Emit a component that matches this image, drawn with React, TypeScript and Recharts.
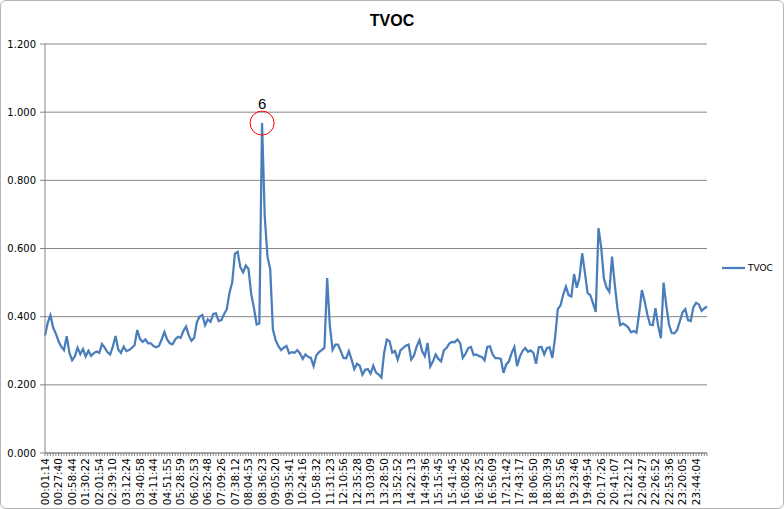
import {
	LineChart,
	Line,
	XAxis,
	YAxis,
	CartesianGrid,
	ReferenceDot,
} from "recharts";

// TVOC readings, one per sample (~245 samples)
const TVOC_VALUES = [
	0.345, 0.382, 0.404, 0.368, 0.35, 0.328, 0.312, 0.302, 0.343, 0.294,
	0.272, 0.284, 0.309, 0.29, 0.305, 0.283, 0.3, 0.285, 0.293, 0.298,
	0.294, 0.32, 0.309, 0.296, 0.289, 0.312, 0.343, 0.304, 0.294, 0.312,
	0.299, 0.302, 0.308, 0.316, 0.361, 0.335, 0.326, 0.333, 0.322, 0.322,
	0.314, 0.31, 0.314, 0.333, 0.355, 0.333, 0.322, 0.319, 0.333, 0.341,
	0.338, 0.358, 0.371, 0.345, 0.329, 0.338, 0.385, 0.4, 0.405, 0.375,
	0.392, 0.385, 0.408, 0.41, 0.387, 0.39, 0.407, 0.422, 0.47, 0.5,
	0.585, 0.59, 0.545, 0.53, 0.55, 0.54, 0.466, 0.426, 0.377, 0.38,
	0.968, 0.693, 0.576, 0.54, 0.363, 0.331, 0.314, 0.302, 0.309, 0.314,
	0.292, 0.296, 0.294, 0.302, 0.292, 0.276, 0.289, 0.282, 0.279, 0.255,
	0.286, 0.296, 0.302, 0.309, 0.513, 0.372, 0.303, 0.318, 0.318, 0.299,
	0.279, 0.278, 0.299, 0.274, 0.246, 0.262, 0.256, 0.23, 0.244, 0.246,
	0.233, 0.256, 0.236, 0.23, 0.221, 0.294, 0.333, 0.328, 0.294, 0.299,
	0.274, 0.301, 0.308, 0.315, 0.318, 0.274, 0.286, 0.313, 0.331, 0.299,
	0.284, 0.323, 0.254, 0.269, 0.289, 0.276, 0.269, 0.301, 0.308, 0.321,
	0.326, 0.325, 0.333, 0.323, 0.279, 0.291, 0.308, 0.311, 0.287, 0.289,
	0.284, 0.282, 0.272, 0.311, 0.313, 0.289, 0.278, 0.278, 0.276, 0.235,
	0.26, 0.269, 0.294, 0.311, 0.255, 0.282, 0.299, 0.308, 0.297, 0.301,
	0.294, 0.262, 0.31, 0.311, 0.289, 0.308, 0.31, 0.279, 0.338, 0.422,
	0.433, 0.465, 0.488, 0.463, 0.459, 0.525, 0.485, 0.515, 0.586, 0.529,
	0.469, 0.463, 0.439, 0.414, 0.66, 0.603, 0.512, 0.485, 0.473, 0.576,
	0.495, 0.424, 0.375, 0.38, 0.375, 0.368, 0.354, 0.358, 0.353, 0.41,
	0.478, 0.446, 0.407, 0.377, 0.375, 0.425, 0.373, 0.337, 0.5, 0.433,
	0.377, 0.352, 0.351, 0.361, 0.387, 0.413, 0.422, 0.39, 0.387, 0.428,
	0.441, 0.436, 0.417, 0.424, 0.43,
];

// Axis labels, shown on every LABEL_STEP-th sample
const TIME_LABELS = [
	"00:01:14", "00:27:40", "00:58:44", "01:30:22", "02:01:54", "02:39:10",
	"03:12:24", "03:40:58", "04:11:44", "04:51:55", "05:28:59", "06:02:53",
	"06:32:48", "07:09:26", "07:38:12", "08:04:53", "08:36:23", "09:05:20",
	"09:35:41", "10:24:16", "10:58:32", "11:31:23", "12:10:56", "12:35:28",
	"13:03:09", "13:28:50", "13:52:52", "14:22:13", "14:49:36", "15:15:45",
	"15:41:45", "16:08:26", "16:32:25", "16:56:09", "17:21:42", "17:43:17",
	"18:06:50", "18:30:39", "18:53:56", "19:23:46", "19:49:54", "20:17:26",
	"20:41:07", "21:22:12", "22:04:27", "22:26:52", "22:53:36", "23:20:05",
	"23:44:04",
];
const LABEL_STEP = 5;

const Y_TICKS = [0, 0.2, 0.4, 0.6, 0.8, 1.0, 1.2];
const SERIES_NAME = "TVOC";
const PEAK_NOTE = "6";

const LINE_COLOR = "#4A7EBB";
const GRID_COLOR = "#868686";
const FONT = "'DejaVu Sans', Verdana, sans-serif";

// Rotated time label, only drawn on labelled samples
const TimeTick = (props: { x?: number; y?: number; payload?: { value: number } }) => {
	const x = Number(props.x ?? 0);
	const y = Number(props.y ?? 0);
	const idx = Number(props.payload?.value ?? 0);
	if (idx % LABEL_STEP !== 0) return null;
	const label = TIME_LABELS[idx / LABEL_STEP];
	if (!label) return null;
	return (
		<text
			x={x}
			y={y}
			dy="0.35em"
			transform={`rotate(-90, ${x}, ${y})`}
			textAnchor="end"
			fontSize={10.5}
			fontFamily={FONT}
			fill="#000"
		>
			{label}
		</text>
	);
};

export default function App() {
	const data = TVOC_VALUES.map((v, i) => ({ idx: i, tvoc: v }));
	const peakIndex = TVOC_VALUES.indexOf(Math.max(...TVOC_VALUES));

	return (
		<div
			style={{
				position: "absolute",
				left: 0,
				top: 0,
				width: 784,
				height: 509,
				background: "#fff",
			}}
		>
			<div
				style={{
					position: "absolute",
					left: 0,
					top: 12,
					width: 784,
					textAlign: "center",
					fontFamily: "'Liberation Sans', Arial, sans-serif",
					fontWeight: "bold",
					fontSize: 16,
					lineHeight: "18px",
				}}
			>
				{SERIES_NAME}
			</div>
			<LineChart
				width={784}
				height={509}
				data={data}
				margin={{ top: 44, right: 77, left: 0, bottom: 0 }}
			>
				<CartesianGrid vertical={false} stroke={GRID_COLOR} strokeWidth={1} />
				<XAxis
					dataKey="idx"
					type="category"
					interval={0}
					height={56}
					tick={<TimeTick />}
					tickSize={3}
					tickMargin={2}
					tickLine={{ stroke: GRID_COLOR }}
					axisLine={{ stroke: GRID_COLOR }}
				/>
				<YAxis
					type="number"
					domain={[0, 1.2]}
					ticks={Y_TICKS}
					width={45}
					tickFormatter={(v: number) => v.toFixed(3)}
					tick={{ fontSize: 10, fontFamily: FONT, fill: "#000" }}
					tickSize={5}
					tickMargin={4}
					tickLine={{ stroke: GRID_COLOR }}
					axisLine={{ stroke: GRID_COLOR }}
				/>
				<Line
					type="linear"
					dataKey="tvoc"
					name={SERIES_NAME}
					stroke={LINE_COLOR}
					strokeWidth={2.25}
					dot={false}
					isAnimationActive={false}
				/>
				<ReferenceDot
					x={peakIndex}
					y={TVOC_VALUES[peakIndex]}
					r={12}
					fill="none"
					stroke="#FF0000"
					strokeWidth={1}
					label={{
						value: PEAK_NOTE,
						position: "top",
						offset: 2,
						fontSize: 15,
						fill: "#000",
						fontFamily: "'Liberation Sans', Arial, sans-serif",
					}}
				/>
			</LineChart>
			{/* Legend, placed like Excel's right-side legend */}
			<div style={{ position: "absolute", left: 722, top: 261 }}>
				<svg width={60} height={14}>
					<line x1={0} y1={7} x2={23} y2={7} stroke={LINE_COLOR} strokeWidth={2.25} />
					<text x={26} y={10} fontSize={9} fontFamily={FONT} fill="#000">
						{SERIES_NAME}
					</text>
				</svg>
			</div>
			<div
				style={{
					position: "absolute",
					left: 0,
					top: 0,
					width: 784,
					height: 509,
					boxSizing: "border-box",
					border: "1px solid #b4b4b4",
					borderRadius: 6,
					pointerEvents: "none",
				}}
			/>
		</div>
	);
}
